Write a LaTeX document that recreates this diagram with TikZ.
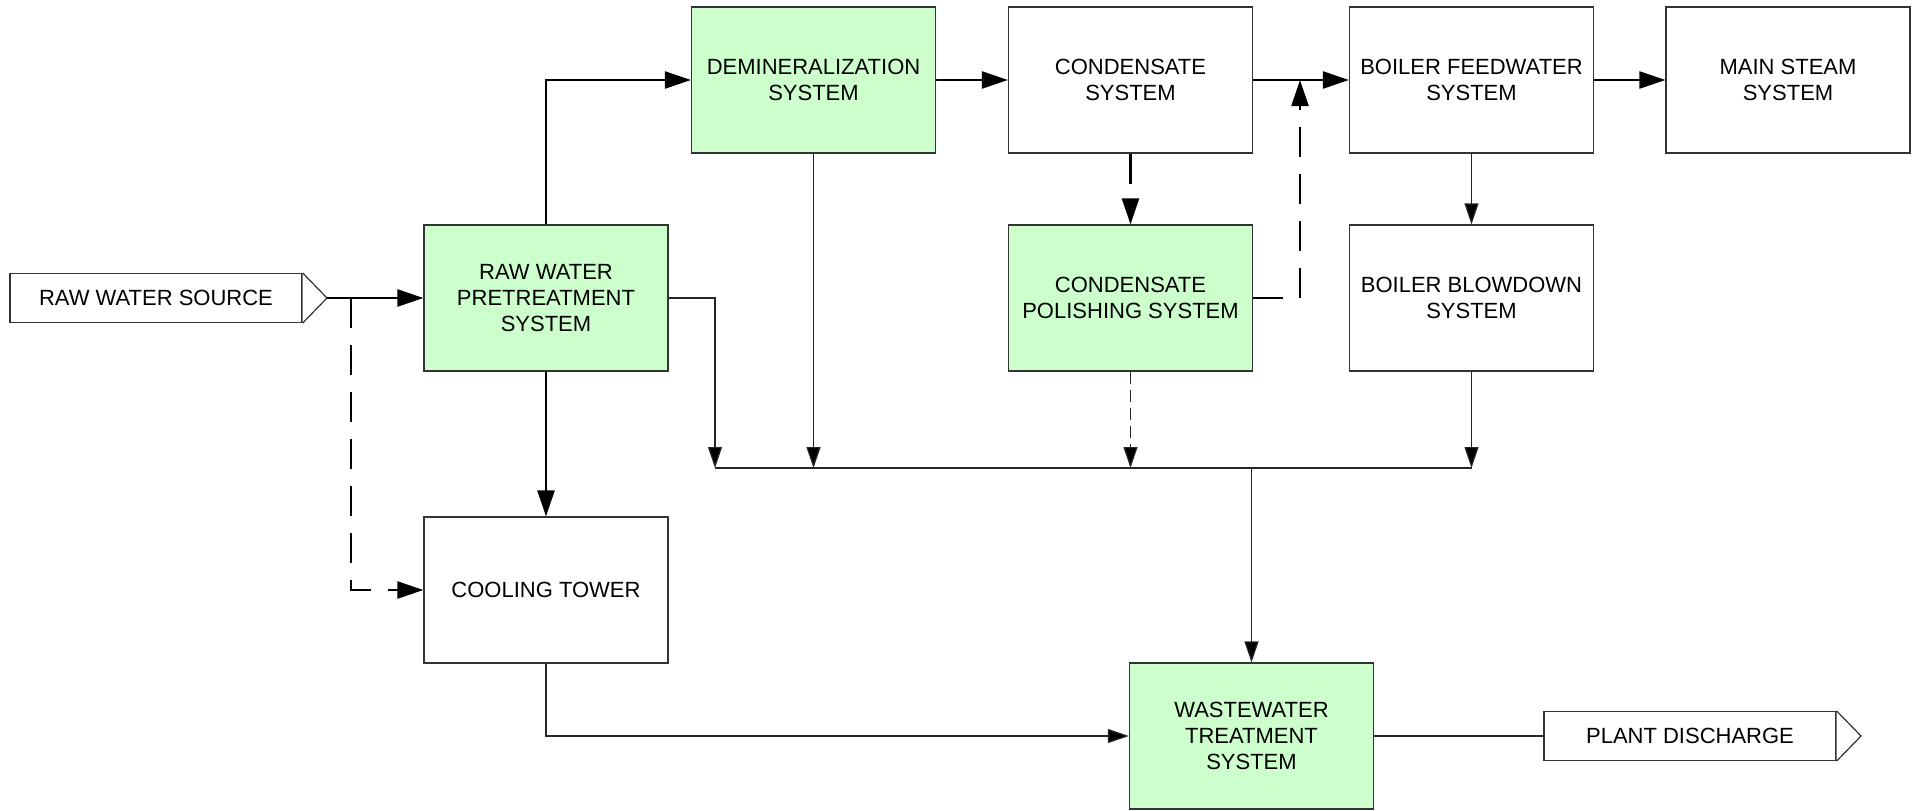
\documentclass[tikz,border=0pt]{standalone}
\usepackage{fontspec}
\setmainfont{Liberation Sans}
\usetikzlibrary{arrows.meta}
\definecolor{boxgreen}{HTML}{CCFFCC}
\begin{document}
\begin{tikzpicture}[x=0.5pt,y=-0.5pt,
 font=\fontsize{11}{12.9}\selectfont,
 sysbox/.style={draw=black!80, line width=0.6pt, minimum width=122pt, minimum height=73pt, align=center, inner sep=2pt},
 greenbox/.style={sysbox, fill=boxgreen},
 whitebox/.style={sysbox, fill=white},
 iobox/.style={draw=black!80, line width=0.6pt, fill=white, minimum width=146pt, minimum height=24.5pt, inner sep=0pt},
 tipshape/.style={draw=black!80, line width=0.6pt, fill=white},
 thickflow/.style={line width=1.2pt, -{Triangle[length=13pt,width=8.5pt]}},
 thinflow/.style={line width=0.6pt, draw=black!85, -{Triangle[length=10.5pt,width=7pt,fill=black]}},
 thinline/.style={line width=0.6pt, draw=black!85},
 thickdash/.style={dash pattern=on 15pt off 8.5pt},
 thindash/.style={dash pattern=on 6pt off 3pt},
]
\useasboundingbox (0,0) rectangle (1917,810);
% nodes
\node[iobox] (rws) at (156,298) {RAW WATER SOURCE};
\coordinate (rwstip) at (327,298);
\draw[tipshape] (rws.north east) -- (rwstip) -- (rws.south east);
\node[greenbox] (rwp) at (546,298) {RAW WATER\\PRETREATMENT\\SYSTEM};
\node[greenbox] (demin) at (813.5,80) {DEMINERALIZATION\\SYSTEM};
\node[whitebox] (cond) at (1130.5,80) {CONDENSATE\\SYSTEM};
\node[whitebox] (bfw) at (1471.5,80) {BOILER FEEDWATER\\SYSTEM};
\node[whitebox] (main) at (1788,80) {MAIN STEAM\\SYSTEM};
\node[greenbox] (pol) at (1130.5,298) {CONDENSATE\\POLISHING SYSTEM};
\node[whitebox] (blow) at (1471.5,298) {BOILER BLOWDOWN\\SYSTEM};
\node[whitebox] (cool) at (546,590) {COOLING TOWER};
\node[greenbox] (ww) at (1251.5,736) {WASTEWATER\\TREATMENT\\SYSTEM};
\node[iobox] (pd) at (1690,736) {PLANT DISCHARGE};
\coordinate (pdtip) at (1861,736);
\draw[tipshape] (pd.north east) -- (pdtip) -- (pd.south east);
% coordinates
\coordinate (split) at (351,298);
\coordinate (cpj) at (1300,80);
\coordinate (busL) at (715,468);
\coordinate (busR) at (1471.5,468);
\coordinate (busM) at (1251.5,468);
% thick connectors
\draw[thickflow] (rwstip) -- (rwp.west);
\draw[thickflow, thickdash] (split) |- (cool.west);
\draw[thickflow] (rwp.north) |- (demin.west);
\draw[thickflow] (rwp.south) -- (cool.north);
\draw[thickflow] (demin.east) -- (cond.west);
\draw[thickflow] (cond.east) -- (bfw.west);
\draw[thickflow] (bfw.east) -- (main.west);
\draw[thickflow, thickdash] (cond.south) -- (pol.north);
\draw[thickflow, thickdash] (pol.east) -| (cpj);
% thin connectors
\draw[thinflow] (bfw.south) -- (blow.north);
\draw[thinline] (busL) -- (busR);
\draw[thinflow] (rwp.east) -| (busL);
\draw[thinflow] (demin.south) -- (demin.south |- busL);
\draw[thinflow, thindash] (pol.south) -- (pol.south |- busL);
\draw[thinflow] (blow.south) -- (busR);
\draw[thinflow] (busM) -- (ww.north);
\draw[thinflow] (cool.south) |- (ww.west);
\draw[thinline] (ww.east) -- (pd.west);
\end{tikzpicture}
\end{document}
